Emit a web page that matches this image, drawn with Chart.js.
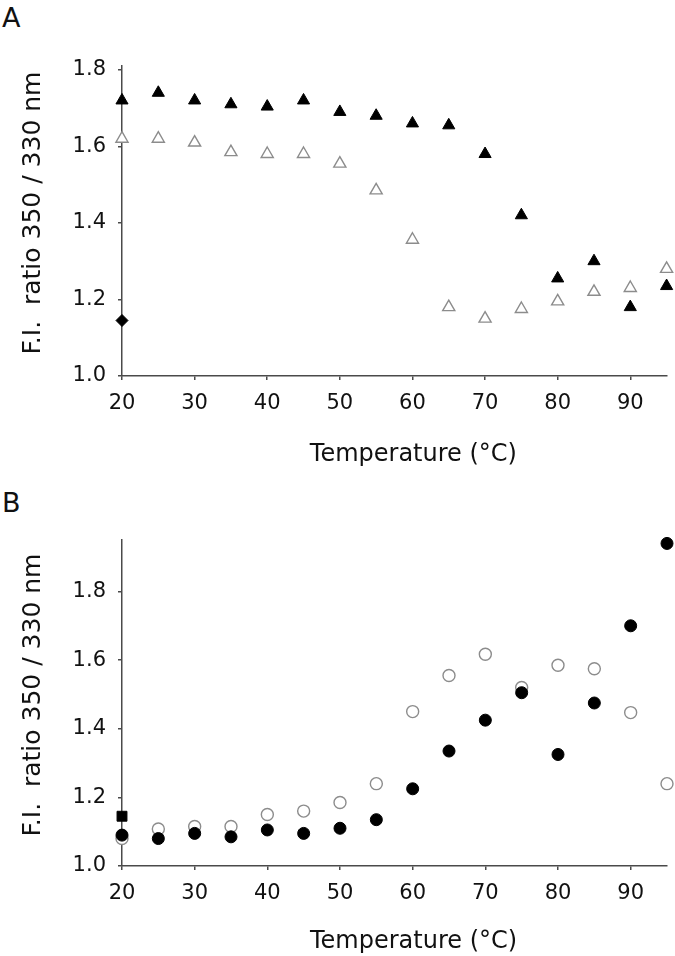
<!DOCTYPE html>
<html>
<head>
<meta charset="utf-8">
<script src="https://cdn.jsdelivr.net/npm/chart.js@4.4.0/dist/chart.umd.min.js"></script>
<style>
  html, body { margin: 0; padding: 0; background: #fff; }
  .panel { position: absolute; left: 0; width: 675px; height: 478px; }
  #panelA { top: 0; }
  #panelB { top: 478px; }
  .letter { position: absolute; left: 2px; font-family: "DejaVu Sans", sans-serif; font-size: 27px; line-height: 27px; color: #111; }
</style>
</head>
<body>
<div class="letter" style="top:4px">A</div>
<div class="letter" style="top:489px">B</div>
<canvas id="panelA" class="panel" width="675" height="478"></canvas>
<canvas id="panelB" class="panel" width="675" height="478"></canvas>
<script>
// temperatures (°C)
const temps = [20, 25, 30, 35, 40, 45, 50, 55, 60, 65, 70, 75, 80, 85, 90, 95];

// panel A
const aFilled = [1.72, 1.74, 1.72, 1.71, 1.704, 1.72, 1.69, 1.68, 1.66, 1.655, 1.58, 1.42, 1.255, 1.30, 1.18, 1.235];
const aOpen = [1.62, 1.62, 1.61, 1.585, 1.58, 1.58, 1.555, 1.485, 1.356, 1.18, 1.15, 1.175, 1.195, 1.22, 1.23, 1.28];
const aSingleTemp = [20];
const aSingle = [1.145];

// panel B
const bFilled = [1.09, 1.08, 1.095, 1.085, 1.105, 1.095, 1.11, 1.135, 1.225, 1.335, 1.425, 1.505, 1.325, 1.475, 1.70, 1.94];
const bOpen = [1.08, 1.108, 1.115, 1.115, 1.15, 1.16, 1.185, 1.24, 1.45, 1.555, 1.617, 1.52, 1.585, 1.575, 1.447, 1.24];
const bSingleTemp = [20];
const bSingle = [1.145];

const X_TITLE = '     Temperature (°C)';
const Y_TITLE = '  F.I.  ratio 350 / 330 nm';

const axisColor = '#4a4a4a';
const textColor = '#111';
const openColor = '#8c8c8c';
const FONT = '"DejaVu Sans", sans-serif';

const pts = (xs, ys) => ys.map((y, i) => ({ x: xs[i], y }));

function filled(xs, ys, style, radius, order) {
  return { data: pts(xs, ys), pointStyle: style, pointRadius: radius, backgroundColor: '#000',
    borderColor: '#000', borderWidth: 1, clip: false, order };
}
function open(xs, ys, style, radius, order) {
  return { data: pts(xs, ys), pointStyle: style, pointRadius: radius, backgroundColor: '#fff',
    borderColor: openColor, borderWidth: 1.4, clip: false, order };
}

function makePanel(canvas, datasets, yMax, topPad, xHeight, xTitlePad) {
  return new Chart(canvas.getContext('2d'), {
    type: 'scatter',
    data: { datasets },
    options: {
      responsive: false,
      animation: false,
      layout: { padding: { top: topPad, right: 7, left: 0, bottom: 0 } },
      plugins: { legend: { display: false }, tooltip: { enabled: false } },
      scales: {
        x: {
          type: 'linear', min: 20, max: 95,
          border: { color: axisColor, width: 1.5 },
          grid: { drawOnChartArea: false, tickLength: 4, color: axisColor, lineWidth: 1.5 },
          ticks: { stepSize: 10, includeBounds: false, padding: 11, color: textColor, maxRotation: 0,
            font: { family: FONT, size: 21 } },
          title: { display: true, text: X_TITLE, color: textColor, font: { family: FONT, size: 24 },
            padding: { top: 0, bottom: xTitlePad } },
          afterFit: s => { s.height = xHeight; }
        },
        y: {
          type: 'linear', min: 1.0, max: yMax,
          border: { color: axisColor, width: 1.5 },
          grid: { drawOnChartArea: false, tickLength: 4, color: axisColor, lineWidth: 1.5 },
          ticks: { stepSize: 0.2, includeBounds: false, padding: 12, color: textColor,
            font: { family: FONT, size: 21 }, callback: v => v.toFixed(1) },
          title: { display: true, text: Y_TITLE, color: textColor, font: { family: FONT, size: 25 },
            padding: { top: 18, bottom: 0 } },
          afterFit: s => { s.width = 122; }
        }
      }
    }
  });
}

makePanel(document.getElementById('panelA'), [
  filled(aSingleTemp, aSingle, 'rectRot', 6, 0),
  filled(temps, aFilled, 'triangle', 7, 1),
  open(temps, aOpen, 'triangle', 7, 2)
], 1.81, 66, 102, 9);

makePanel(document.getElementById('panelB'), [
  filled(bSingleTemp, bSingle, 'rect', 7, 0),
  filled(temps, bFilled, 'circle', 6, 1),
  open(temps, bOpen, 'circle', 6, 2)
], 1.95, 62, 90, 0);
</script>
</body>
</html>
